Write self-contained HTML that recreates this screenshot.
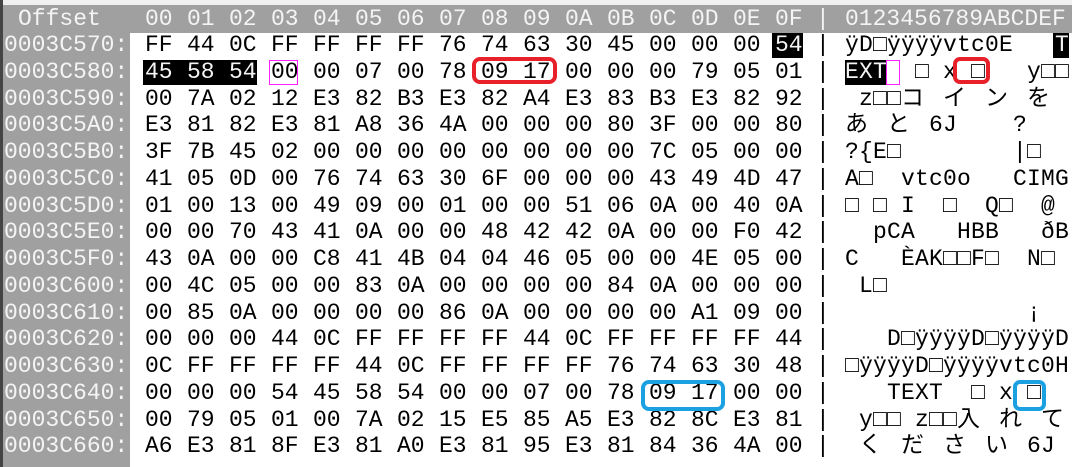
<!DOCTYPE html>
<html><head><meta charset="utf-8"><style>
html,body{margin:0;padding:0;}
body{width:1072px;height:467px;overflow:hidden;position:relative;background:#fff;font-family:"Liberation Mono","Noto Sans CJK JP",monospace;font-size:23px;}
.abs{position:absolute;white-space:pre;line-height:26px;}
#top{position:absolute;left:0;top:0;width:1072px;height:5px;background:#f0f0f0;border-bottom:1px solid #bbb;}
#edge{position:absolute;left:0;top:0;width:3px;height:467px;background:#444;}
#hdr{position:absolute;left:3px;top:5px;width:1069px;height:28px;background:#a0a0a0;}
#offcol{position:absolute;left:3px;top:33px;width:127px;height:434px;background:#a0a0a0;}
.w{color:#f4f4f4;}
.k{color:#000;}
.blk{position:absolute;background:#000;}
.box{position:absolute;box-sizing:border-box;}
</style></head><body>
<div id="top"></div>
<div id="hdr"></div>
<div id="offcol"></div>
<div id="edge"></div>
<div id="layer"></div>
<script>
const hexRows=[
"FF 44 0C FF FF FF FF 76 74 63 30 45 00 00 00 54",
"45 58 54 00 00 07 00 78 09 17 00 00 00 79 05 01",
"00 7A 02 12 E3 82 B3 E3 82 A4 E3 83 B3 E3 82 92",
"E3 81 82 E3 81 A8 36 4A 00 00 00 80 3F 00 00 80",
"3F 7B 45 02 00 00 00 00 00 00 00 00 7C 05 00 00",
"41 05 0D 00 76 74 63 30 6F 00 00 00 43 49 4D 47",
"01 00 13 00 49 09 00 01 00 00 51 06 0A 00 40 0A",
"00 00 70 43 41 0A 00 00 48 42 42 0A 00 00 F0 42",
"43 0A 00 00 C8 41 4B 04 04 46 05 00 00 4E 05 00",
"00 4C 05 00 00 83 0A 00 00 00 00 84 0A 00 00 00",
"00 85 0A 00 00 00 00 86 0A 00 00 00 00 A1 09 00",
"00 00 00 44 0C FF FF FF FF 44 0C FF FF FF FF 44",
"0C FF FF FF FF 44 0C FF FF FF FF 76 74 63 30 48",
"00 00 00 54 45 58 54 00 00 07 00 78 09 17 00 00",
"00 79 05 01 00 7A 02 15 E5 85 A5 E3 82 8C E3 81",
"A6 E3 81 8F E3 81 A0 E3 81 95 E3 81 84 36 4A 00"];
const asciiRows=[
[[0,"ÿD□ÿÿÿÿvtc0E   T"]],
[[0,"EXT  □ x □   y□□"]],
[[1,"z□□"],[4,"コ"],[7,"イ"],[10,"ン"],[13,"を"]],
[[0,"あ"],[3,"と"],[6,"6J"],[12,"?"]],
[[0,"?{E□"],[12,"|□"]],
[[0,"A□  vtc0o   CIMG"]],
[[0,"□ □ I  □  Q□  @"]],
[[0,"  pCA   HBB   ðB"]],
[[0,"C   ÈAK□□F□  N□"]],
[[1,"L□"]],
[[13,"¡"]],
[[3,"D□ÿÿÿÿD□ÿÿÿÿD"]],
[[0,"□ÿÿÿÿD□ÿÿÿÿvtc0H"]],
[[3,"TEXT  □ x □"]],
[[1,"y□□ z□□"],[8,"入"],[11,"れ"],[14,"て"]],
[[1,"く"],[4,"だ"],[7,"さ"],[10,"い"],[13,"6J"]]];
const baseOffset=0x3C570;
const layer=document.getElementById('layer');
const ROW0=32,PITCH=26.75,HX=145,HW=42,AX=845,AW=14;
function mk(cls,x,y,t){const d=document.createElement('div');d.className='abs '+cls;d.style.left=x+'px';d.style.top=y+'px';d.textContent=t;layer.appendChild(d);return d;}
function rect(cls,x,y,w,h,extra){const d=document.createElement('div');d.className=cls;d.style.left=x+'px';d.style.top=y+'px';d.style.width=w+'px';d.style.height=h+'px';if(extra)Object.assign(d.style,extra);layer.appendChild(d);return d;}
let b;
b=rect('blk',772,ROW0+1,31,25);


b=rect('blk',143,ROW0+PITCH+1,114,25);


b=rect('blk',1053,ROW0+1,16,25);


b=rect('blk',845,ROW0+PITCH+1,41,25);


let h=mk('w',18,6,'Offset');


for(let c=0;c<16;c++){
 const t=mk('w',HX+c*HW,6,c.toString(16).toUpperCase().padStart(2,'0'));
 
 
}
h=mk('w',816,6,'|');


h=mk('w',845,6,'0123456789ABCDEF');


hexRows.forEach((row,r)=>{
 const y=ROW0+r*PITCH;
 const o=mk('w',4,y,(baseOffset+r*16).toString(16).toUpperCase().padStart(8,'0')+':');
 
 
 row.split(' ').forEach((bt,c)=>{
  const isSel=(r===0&&c===15)||(r===1&&c<3);
  const s=mk(isSel?'w':'k',HX+c*HW,y,bt);
  
  
 });
 const sp=mk('k',816,y,'|');
 
 
 asciiRows[r].forEach(([cell,txt])=>{
  [...txt].forEach((ch,i)=>{
   if(ch===' ')return;
   const isSel=(r===0&&cell+i===15)||(r===1&&cell+i<3);
   const a=mk(isSel?'w':'k',AX+(cell+i)*AW,y,ch);
   
   
  });
 });
});
b=rect('box',269,ROW0+PITCH+1,29,25,{border:'1px solid #ff20ff'});


b=rect('box',886,ROW0+PITCH+1,14,25,{border:'1px solid #ff20ff'});


b=rect('box',472,57,85,27,{border:'4px solid #e8202a',borderRadius:'8px'});


b=rect('box',953,57,37,27,{border:'4px solid #e8202a',borderRadius:'7px'});


b=rect('box',641,380,84,31,{border:'4px solid #1ba1e2',borderRadius:'8px'});


b=rect('box',1013,380,33,31,{border:'4px solid #1ba1e2',borderRadius:'7px'});


</script>
</body></html>
